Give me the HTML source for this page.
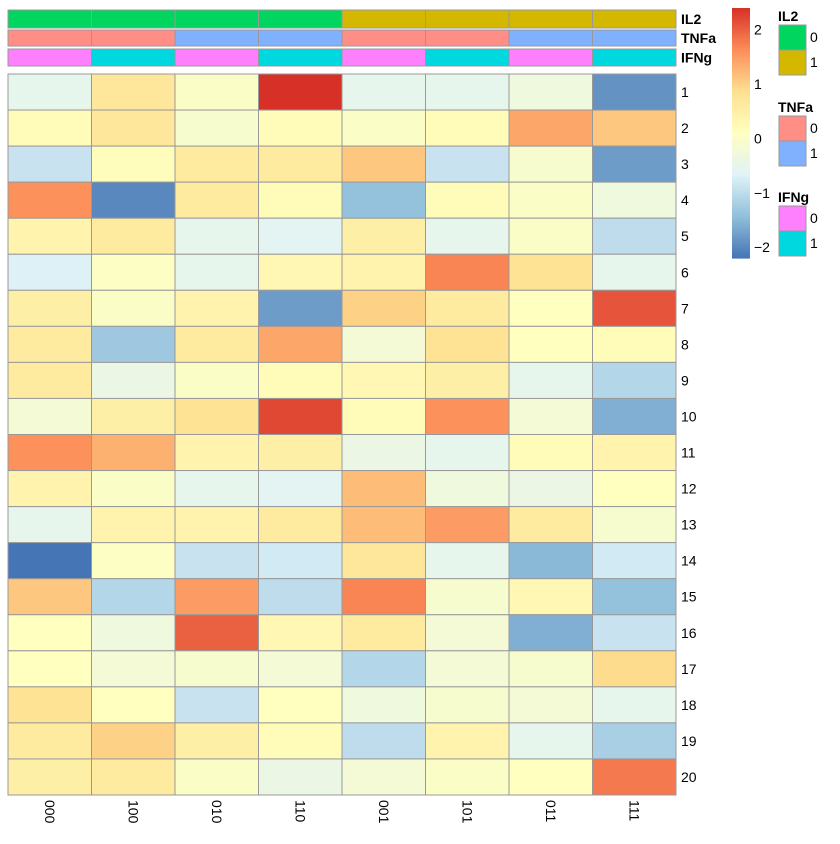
<!DOCTYPE html>
<html><head><meta charset="utf-8"><style>
body{margin:0;background:#fff;font-family:"Liberation Sans",sans-serif}
</style></head><body>
<svg id="chart" width="840" height="839" xmlns="http://www.w3.org/2000/svg" font-family="Liberation Sans, sans-serif"></svg>
<script>
const columns=["000","100","010","110","001","101","011","111"];
const rowLabels=["1","2","3","4","5","6","7","8","9","10","11","12","13","14","15","16","17","18","19","20"];
const il2=[0,0,0,0,1,1,1,1];
const tnfa=[0,0,1,1,0,0,1,1];
const ifng=[0,1,0,1,0,1,0,1];
const values=[
[-0.5,0.7,0,2.4,-0.5,-0.5,-0.3,-1.9],
[0.2,0.7,-0.1,0.2,0,0.2,1.4,1.1],
[-0.9,0.15,0.6,0.6,1.1,-0.9,-0.1,-1.8],
[1.6,-2.0,0.6,0.2,-1.4,0.2,0,-0.3],
[0.4,0.6,-0.5,-0.6,0.5,-0.5,0,-1.0],
[-0.7,0.05,-0.5,0.3,0.4,1.7,0.8,-0.5],
[0.5,0,0.4,-1.8,1.0,0.6,0.1,2.1],
[0.6,-1.3,0.6,1.4,-0.2,0.8,0.1,0.2],
[0.6,-0.4,0,0.2,0.3,0.5,-0.5,-1.1],
[-0.2,0.5,0.8,2.2,0.2,1.6,-0.2,-1.6],
[1.6,1.3,0.4,0.5,-0.4,-0.5,0.2,0.4],
[0.4,0,-0.5,-0.6,1.2,-0.3,-0.4,0.1],
[-0.5,0.4,0.4,0.6,1.2,1.5,0.6,-0.1],
[-2.2,0.05,-0.9,-0.8,0.7,-0.5,-1.5,-0.8],
[1.1,-1.1,1.5,-1.0,1.7,-0.1,0.3,-1.4],
[0.1,-0.3,2.0,0.3,0.6,-0.2,-1.6,-0.9],
[0.1,-0.2,-0.1,-0.2,-1.1,-0.2,-0.1,0.9],
[0.8,0.1,-0.9,0.1,-0.3,-0.1,-0.2,-0.5],
[0.6,1.0,0.5,0.2,-1.0,0.4,-0.5,-1.2],
[0.5,0.6,0,-0.4,-0.2,0,0.1,1.8]];
const legendTicks=[2,1,0,-1,-2];
const vmin=-2.2,vmax=2.4;
const pal=["#4575B4","#91BFDB","#E0F3F8","#FFFFBF","#FEE090","#FC8D59","#D73027"];
function hex(h){return [1,3,5].map(i=>parseInt(h.substr(i,2),16));}
function color(v){let t=Math.max(0,Math.min(1,(v-vmin)/(vmax-vmin)))*6;let i=Math.min(5,Math.floor(t));let f=t-i;let a=hex(pal[i]),b=hex(pal[i+1]);return "rgb("+a.map((c,k)=>Math.round(c+(b[k]-c)*f)).join(",")+")";}
const svg=document.getElementById('chart');const NS="http://www.w3.org/2000/svg";
function el(tag,at,parent){const e=document.createElementNS(NS,tag);for(const k in at)e.setAttribute(k,at[k]);(parent||svg).appendChild(e);return e;}
const x0=8,cw=83.5,y0=74,rh=36.05;
const xs=i=>x0+i*cw, ys=j=>y0+j*rh;
const annCols={IL2:["#00D65F","#D4B800"],TNFa:["#FF8F86","#80B1FF"],IFNg:["#FF80FF","#00D8E0"]};
const anns=[["IL2",il2,10,18],["TNFa",tnfa,30,16],["IFNg",ifng,49,17]];
anns.forEach(([nm,arr,y,h])=>{
 arr.forEach((v,i)=>{const r=el('rect',{x:xs(i),y:y,width:cw,height:h,fill:annCols[nm][v],stroke:"#999","stroke-width":1});
 
 });
 const t=el('text',{x:681,y:y+h/2+5,"font-size":14,"font-weight":"bold"});t.textContent=nm;
 
 
});
values.forEach((row,j)=>row.forEach((v,i)=>{
 const r=el('rect',{x:xs(i),y:ys(j),width:cw,height:rh,fill:color(v),stroke:"#999","stroke-width":1});
 
 
}));
rowLabels.forEach((l,j)=>{const t=el('text',{x:681,y:ys(j)+rh/2+5,"font-size":14});t.textContent=l;
 
 });
columns.forEach((c,i)=>{const cx=xs(i)+cw/2-5,cy=800;const t=el('text',{x:cx,y:cy,"font-size":14,transform:`rotate(90 ${cx} ${cy})`});t.textContent=c;
 
 });
// color legend
const ly0=8,ly1=258,lx=732,lw=18;
const ly=v=>ly0+(vmax-v)/(vmax-vmin)*(ly1-ly0);
for(let k=0;k<100;k++){const v1=vmax-k*(vmax-vmin)/100;const r=el('rect',{x:lx,y:ly(v1),width:lw,height:(ly1-ly0)/100+0.6,fill:color(v1-(vmax-vmin)/200)});
 
 }
legendTicks.forEach(v=>{const t=el('text',{x:lx+lw+4,y:ly(v)+5,"font-size":14});t.textContent=v<0?"\u2212"+(-v):String(v);
 
 });
// annotation legends
[["IL2",16],["TNFa",107],["IFNg",197]].forEach(([nm,ty])=>{
 const t=el('text',{x:778,y:ty+5,"font-size":14,"font-weight":"bold"});t.textContent=nm;
 
 
 [0,1].forEach(k=>{const r=el('rect',{x:779,y:ty+9+k*25,width:27,height:25,fill:annCols[nm][k],stroke:"#999"});
  
  
  const l=el('text',{x:810,y:ty+9+k*25+17,"font-size":14});l.textContent=String(k);
  
  });
});
</script>
</body></html>
